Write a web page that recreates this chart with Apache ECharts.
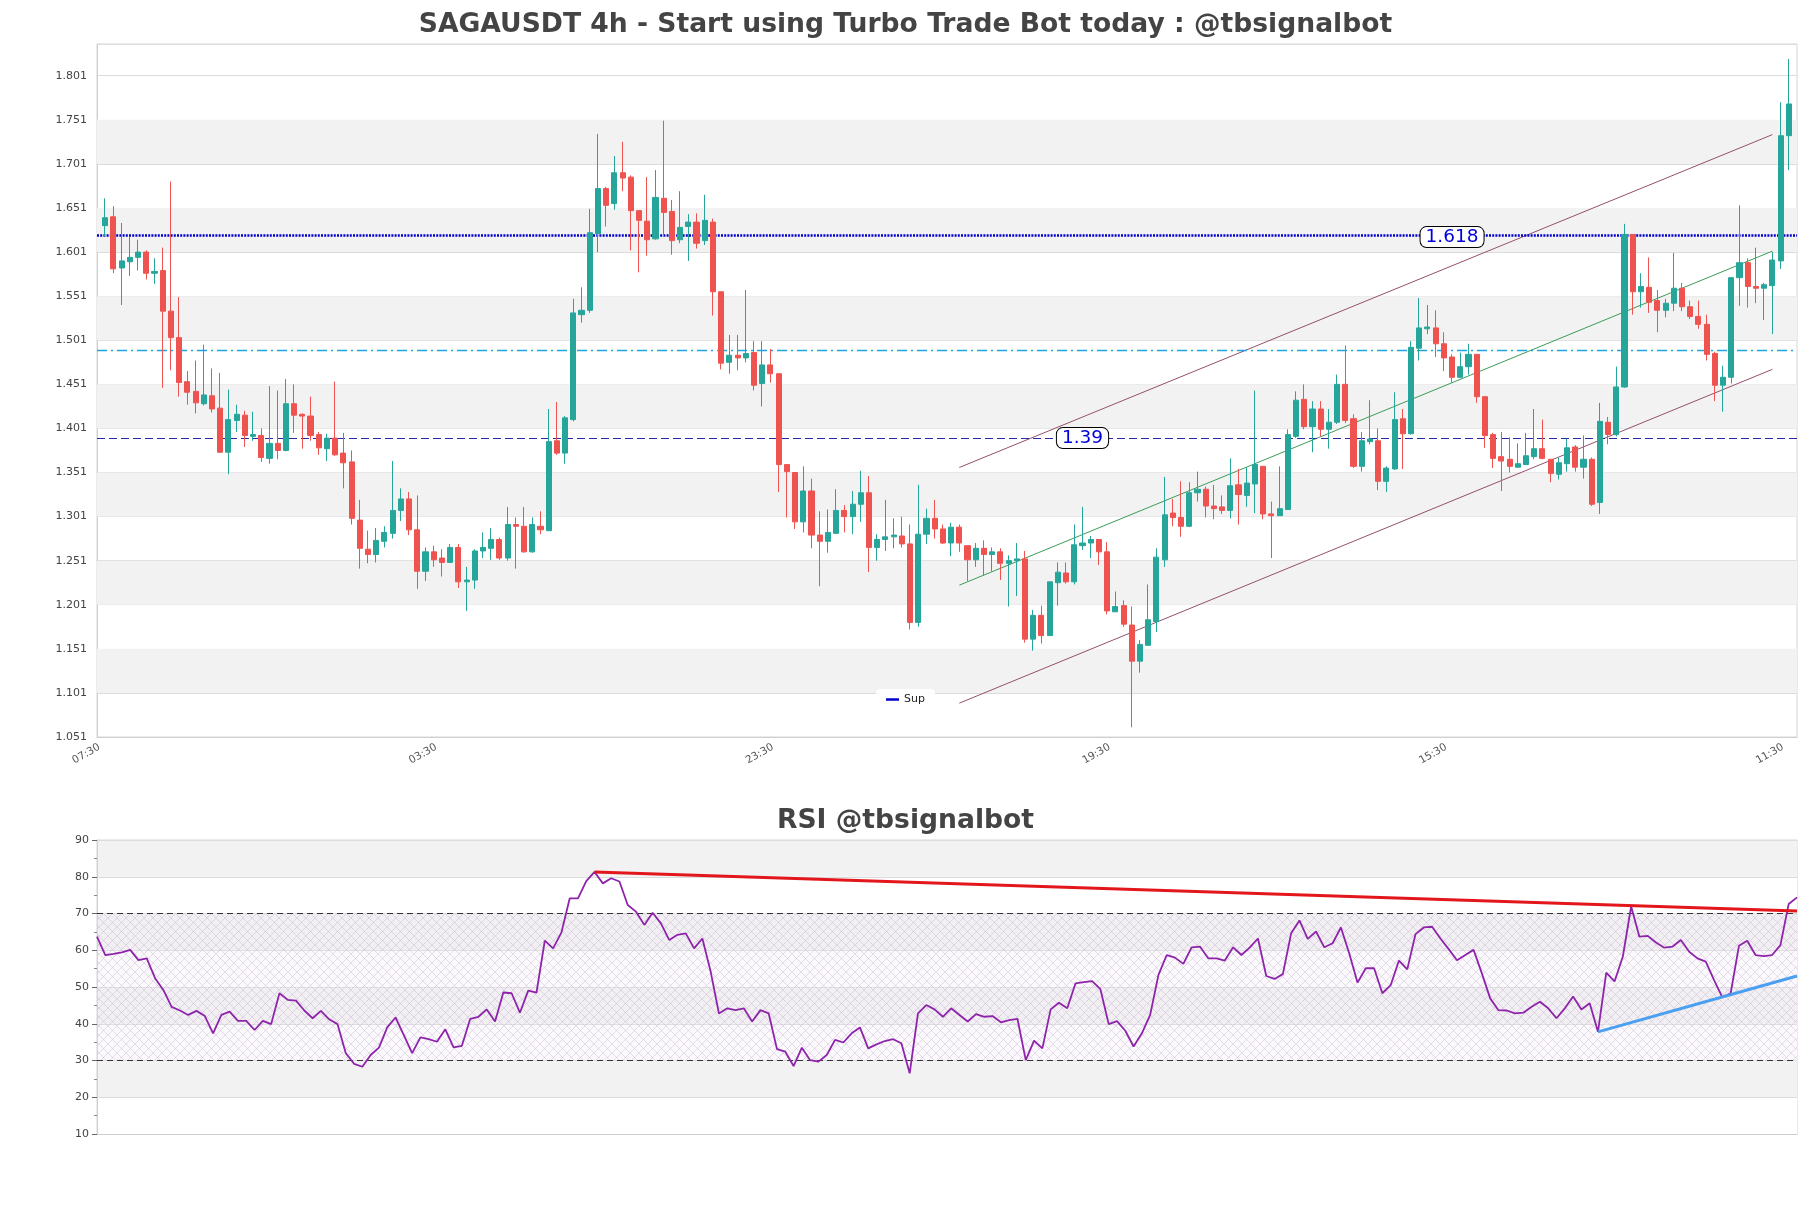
<!DOCTYPE html>
<html>
<head>
<meta charset="utf-8">
<script src="https://cdn.jsdelivr.net/npm/echarts@6/dist/echarts.min.js"></script>
<style>
html,body{margin:0;padding:0;background:#fff;}
#chart{width:1811px;height:1208px;}
</style>
</head>
<body>
<div id="chart"></div>
<script>
// ---------------- DATA ----------------
const opens = [1.631,1.641,1.583,1.590,1.595,1.601,1.577,1.580,1.534,1.504,1.454,1.443,1.429,1.438,1.424,1.374,1.410,1.416,1.392,1.393,
1.367,1.384,1.376,1.429,1.417,1.415,1.394,1.378,1.390,1.373,1.363,1.297,1.264,1.258,1.273,1.282,1.308,1.321,1.286,1.239,
1.261,1.254,1.249,1.266,1.227,1.229,1.262,1.265,1.275,1.254,1.292,1.290,1.261,1.290,1.285,1.387,1.373,1.411,1.530,1.535,
1.622,1.673,1.656,1.691,1.686,1.648,1.636,1.616,1.662,1.647,1.615,1.630,1.635,1.614,1.635,1.556,1.476,1.484,1.481,1.487,
1.452,1.473,1.463,1.360,1.351,1.295,1.330,1.280,1.273,1.282,1.308,1.301,1.315,1.328,1.266,1.275,1.278,1.279,1.270,1.181,
1.281,1.299,1.287,1.271,1.289,1.268,1.252,1.265,1.258,1.261,1.248,1.251,1.253,1.162,1.189,1.166,1.226,1.237,1.227,1.268,
1.271,1.275,1.261,1.193,1.200,1.178,1.137,1.155,1.182,1.252,1.305,1.300,1.290,1.328,1.332,1.313,1.312,1.308,1.337,1.325,
1.338,1.358,1.304,1.302,1.309,1.392,1.434,1.403,1.423,1.400,1.408,1.451,1.412,1.358,1.386,1.387,1.341,1.355,1.412,1.395,
1.492,1.514,1.515,1.497,1.482,1.459,1.471,1.485,1.437,1.394,1.369,1.366,1.357,1.360,1.369,1.378,1.366,1.349,1.361,1.380,
1.357,1.366,1.317,1.408,1.394,1.448,1.621,1.556,1.561,1.546,1.535,1.543,1.560,1.539,1.528,1.519,1.486,1.450,1.459,1.572,
1.589,1.562,1.560,1.563,1.591,1.733];
const closes = [1.640,1.582,1.591,1.595,1.601,1.577,1.579,1.534,1.504,1.453,1.442,1.430,1.439,1.423,1.374,1.411,1.417,1.393,1.394,1.368,
1.384,1.376,1.429,1.416,1.415,1.393,1.379,1.390,1.371,1.362,1.299,1.265,1.258,1.274,1.283,1.308,1.321,1.286,1.239,1.261,
1.252,1.249,1.266,1.227,1.229,1.262,1.266,1.275,1.254,1.292,1.290,1.261,1.292,1.286,1.386,1.373,1.413,1.532,1.535,1.623,
1.673,1.654,1.691,1.685,1.648,1.637,1.615,1.663,1.646,1.614,1.629,1.635,1.611,1.637,1.556,1.475,1.484,1.481,1.486,1.450,
1.473,1.463,1.360,1.352,1.295,1.330,1.280,1.273,1.283,1.308,1.301,1.315,1.328,1.266,1.275,1.278,1.280,1.270,1.181,1.281,
1.299,1.287,1.271,1.289,1.271,1.252,1.265,1.258,1.261,1.248,1.251,1.253,1.162,1.189,1.166,1.227,1.238,1.227,1.269,1.271,
1.275,1.261,1.194,1.199,1.179,1.137,1.156,1.184,1.255,1.303,1.300,1.290,1.328,1.332,1.313,1.310,1.308,1.336,1.326,1.339,
1.360,1.304,1.302,1.310,1.394,1.433,1.403,1.423,1.400,1.408,1.451,1.410,1.358,1.387,1.389,1.341,1.356,1.411,1.395,1.493,
1.515,1.516,1.497,1.481,1.459,1.471,1.485,1.437,1.393,1.367,1.364,1.358,1.361,1.370,1.378,1.367,1.350,1.362,1.379,1.357,
1.366,1.315,1.409,1.394,1.448,1.621,1.556,1.562,1.544,1.535,1.543,1.560,1.539,1.528,1.519,1.485,1.450,1.459,1.572,1.589,
1.562,1.560,1.564,1.592,1.733,1.769];
const lows = [1.619,1.577,1.541,1.574,1.580,1.570,1.565,1.447,1.467,1.437,1.428,1.418,1.427,1.419,1.373,1.349,1.397,1.380,1.387,1.363,
1.361,1.366,1.375,1.396,1.378,1.387,1.371,1.364,1.370,1.333,1.292,1.242,1.248,1.249,1.266,1.276,1.296,1.280,1.219,1.228,
1.244,1.233,1.249,1.220,1.194,1.219,1.254,1.252,1.252,1.251,1.242,1.260,1.260,1.281,1.285,1.371,1.361,1.409,1.521,1.532,
1.601,1.630,1.649,1.670,1.603,1.578,1.597,1.615,1.619,1.598,1.611,1.591,1.605,1.609,1.529,1.468,1.463,1.467,1.476,1.444,
1.426,1.453,1.329,1.300,1.287,1.283,1.265,1.222,1.260,1.281,1.283,1.281,1.295,1.238,1.251,1.262,1.265,1.266,1.173,1.176,
1.270,1.276,1.270,1.256,1.261,1.228,1.244,1.234,1.239,1.229,1.199,1.211,1.158,1.149,1.157,1.166,1.200,1.225,1.224,1.263,
1.254,1.246,1.190,1.193,1.176,1.062,1.124,1.155,1.170,1.244,1.290,1.278,1.289,1.318,1.300,1.298,1.304,1.299,1.292,1.312,
1.305,1.298,1.254,1.302,1.309,1.390,1.400,1.374,1.392,1.378,1.406,1.407,1.356,1.352,1.383,1.331,1.329,1.354,1.355,1.394,
1.478,1.508,1.482,1.466,1.453,1.458,1.462,1.430,1.379,1.356,1.330,1.351,1.357,1.360,1.366,1.366,1.340,1.343,1.352,1.352,
1.344,1.313,1.304,1.383,1.392,1.447,1.530,1.538,1.532,1.510,1.527,1.534,1.534,1.525,1.514,1.478,1.432,1.420,1.452,1.540,
1.538,1.543,1.524,1.508,1.582,1.694];
const highs = [1.662,1.653,1.634,1.618,1.615,1.603,1.594,1.606,1.681,1.550,1.466,1.478,1.496,1.469,1.464,1.445,1.428,1.421,1.420,1.401,
1.449,1.444,1.457,1.451,1.418,1.437,1.397,1.395,1.454,1.396,1.376,1.320,1.285,1.288,1.290,1.364,1.333,1.329,1.325,1.266,
1.268,1.264,1.270,1.270,1.244,1.264,1.283,1.288,1.277,1.312,1.300,1.312,1.300,1.307,1.423,1.431,1.415,1.548,1.561,1.650,
1.735,1.675,1.710,1.726,1.688,1.648,1.686,1.694,1.750,1.660,1.670,1.644,1.645,1.666,1.639,1.556,1.507,1.507,1.558,1.500,
1.500,1.491,1.463,1.360,1.351,1.358,1.344,1.307,1.309,1.332,1.314,1.330,1.353,1.347,1.281,1.320,1.299,1.301,1.292,1.337,
1.310,1.320,1.292,1.294,1.292,1.268,1.271,1.274,1.266,1.265,1.257,1.271,1.262,1.195,1.200,1.227,1.249,1.249,1.292,1.312,
1.279,1.275,1.272,1.216,1.206,1.199,1.161,1.224,1.265,1.346,1.321,1.341,1.340,1.352,1.335,1.337,1.325,1.367,1.355,1.357,
1.444,1.358,1.318,1.358,1.400,1.443,1.451,1.432,1.432,1.423,1.462,1.495,1.417,1.397,1.433,1.401,1.358,1.442,1.423,1.500,
1.549,1.541,1.535,1.510,1.485,1.487,1.497,1.485,1.437,1.396,1.397,1.391,1.384,1.396,1.423,1.411,1.366,1.368,1.389,1.382,
1.393,1.368,1.430,1.414,1.471,1.633,1.621,1.577,1.595,1.558,1.548,1.600,1.566,1.546,1.546,1.530,1.488,1.472,1.572,1.654,
1.594,1.606,1.566,1.601,1.771,1.820];
const rsi = [63.7,58.7,59.0,59.4,60.1,57.3,57.8,52.4,49.2,44.6,
43.6,42.4,43.5,42.1,37.4,42.4,43.3,40.8,40.8,38.3,
40.8,39.9,48.3,46.5,46.3,43.6,41.5,43.5,41.2,39.9,
32.0,29.1,28.3,31.5,33.5,39.0,41.7,36.9,32.0,36.3,
35.8,35.1,38.5,33.6,34.0,41.3,41.9,43.9,40.6,48.5,
48.3,43.0,49.0,48.5,62.6,60.5,64.8,74.1,74.1,78.8,
81.3,78.2,79.6,78.7,72.3,70.5,66.9,70.2,67.3,62.8,
64.2,64.6,60.5,63.2,54.2,42.8,44.2,43.7,44.2,40.6,
43.7,42.8,33.1,32.4,28.5,33.5,30.1,29.7,31.5,35.6,
34.9,37.4,39.0,33.3,34.4,35.3,35.8,34.7,26.5,42.8,
45.1,43.9,41.9,44.2,42.4,40.6,42.6,41.9,42.1,40.4,
41.0,41.3,30.1,35.4,33.3,43.9,45.7,44.2,51.0,51.3,
51.6,49.4,39.9,40.7,38.1,33.8,37.4,42.4,53.3,58.7,
58.0,56.3,60.8,61.0,57.8,57.8,57.2,60.8,58.7,60.7,
63.2,53.0,52.2,53.5,64.6,68.1,63.1,65.1,60.8,61.9,
66.2,59.2,51.2,55.1,55.1,48.3,50.5,57.2,54.8,64.4,
66.2,66.4,63.2,60.3,57.3,58.7,60.1,53.7,46.9,43.7,
43.6,42.8,43.0,44.6,46.0,44.2,41.5,44.2,47.4,43.9,
45.6,37.8,53.9,51.5,58.3,71.9,63.7,63.9,62.1,60.7,
61.0,62.8,59.6,57.8,56.9,51.9,47.2,48.3,61.2,62.6,
58.7,58.4,58.7,61.4,72.6,74.4];

// x tick labels (candle index -> time text)
const tickIdx = [0, 41, 82, 123, 164, 205];
const tickLabels = ['07:30', '03:30', '23:30', '19:30', '15:30', '11:30'];

// horizontal levels
const supLevel = 1.618;
const lvl139 = 1.39;
const midLevel = 1.487;

// channel (candle index, price)
const chanX = [104, 203];
const chanUpper = [1.3567, 1.7342];
const chanMid = [1.2232, 1.6021];
const chanLower = [1.0894, 1.4680];

// RSI trend lines (index, value)
const rsiResX = [60, 205], rsiResY = [81.3, 70.7];
const rsiSupX = [181, 205], rsiSupY = [37.8, 53.0];

// price axis
const yMin = 1.051, yMax = 1.837, yStep = 0.05;

// ---------------- BUILD ----------------
const N = opens.length;
const cats = Array.from({length: N + 2}, (_, j) => String(j));
const candleData = [['-','-','-','-']]
  .concat(opens.map((o, i) => [o, closes[i], lows[i], highs[i]]))
  .concat([['-','-','-','-']]);

// gray bands between alternate ticks
const bands = [];
for (let k = 1; yMin + (k + 1) * yStep <= yMax + 1e-9; k += 2) {
  bands.push([{yAxis: +(yMin + k * yStep).toFixed(3)}, {yAxis: +(yMin + (k + 1) * yStep).toFixed(3)}]);
}

// hatch pattern
const pat = document.createElement('canvas');
pat.width = 9; pat.height = 9;
const pc = pat.getContext('2d');
pc.fillStyle = 'rgba(240,232,245,0.25)';
pc.fillRect(0, 0, 9, 9);
pc.strokeStyle = 'rgba(185,160,200,0.55)';
pc.lineWidth = 0.6;
pc.beginPath();
pc.moveTo(0, 0); pc.lineTo(9, 9);
pc.moveTo(9, 0); pc.lineTo(0, 9);
pc.stroke();

const FONT = 'DejaVu Sans';
const chart = echarts.init(document.getElementById('chart'), null, {renderer: 'canvas'});

const chanSeries = (name, ys, color) => ({
  name, type: 'line', xAxisIndex: 0, yAxisIndex: 0, symbol: 'none', silent: true, z: 4,
  data: [[chanX[0] + 1, ys[0]], [chanX[1] + 1, ys[1]]],
  lineStyle: {color, width: 1}
});

const option = {
  animation: false,
  backgroundColor: '#ffffff',
  textStyle: {fontFamily: FONT},
  title: [
    {text: 'SAGAUSDT 4h - Start using Turbo Trade Bot today : @tbsignalbot', left: 'center', top: 7,
     textStyle: {fontFamily: FONT, fontWeight: 'bold', fontSize: 26.6, color: '#444'}},
    {text: 'RSI @tbsignalbot', left: 'center', top: 803,
     textStyle: {fontFamily: FONT, fontWeight: 'bold', fontSize: 26.6, color: '#444'}}
  ],
  legend: {
    data: [{name: 'Sup', icon: 'rect'}],
    left: 'center', top: 689,
    itemWidth: 13, itemHeight: 2.5,
    backgroundColor: 'rgba(255,255,255,0.9)', borderRadius: 4, padding: [5, 10],
    textStyle: {fontFamily: FONT, fontSize: 11, color: '#222'}
  },
  grid: [
    {left: 97, top: 44, width: 1700, height: 693, show: true, borderColor: '#d6d6d6', borderWidth: 1},
    {left: 97, top: 840, width: 1700, height: 294, show: true, borderColor: '#d6d6d6', borderWidth: 1}
  ],
  xAxis: [
    {type: 'category', gridIndex: 0, data: cats, boundaryGap: false,
     axisLine: {show: true, lineStyle: {color: '#cfcfcf'}},
     axisTick: {show: false}, splitLine: {show: false},
     axisLabel: {
       rotate: 30, fontFamily: FONT, fontSize: 10.5, color: '#555', margin: 6,
       interval: (idx) => tickIdx.indexOf(idx - 1) >= 0,
       formatter: (val) => { const k = tickIdx.indexOf(Number(val) - 1); return k >= 0 ? tickLabels[k] + '  ' : ''; }
     }},
    {type: 'value', gridIndex: 1, min: 0, max: N - 1,
     axisLine: {show: true, lineStyle: {color: '#cfcfcf'}},
     axisTick: {show: false}, axisLabel: {show: false}, splitLine: {show: false}}
  ],
  yAxis: [
    {type: 'value', gridIndex: 0, min: yMin, max: yMax, interval: yStep,
     axisLine: {show: true, lineStyle: {color: '#cfcfcf'}},
     axisTick: {show: false},
     splitLine: {show: true, lineStyle: {color: '#dcdcdc', width: 1}},
     axisLabel: {fontFamily: FONT, fontSize: 11, color: '#444', margin: 10, showMaxLabel: false,
       formatter: (v) => v.toFixed(3)}},
    {type: 'value', gridIndex: 1, min: 10, max: 90, interval: 10,
     axisLine: {show: true, lineStyle: {color: '#cfcfcf'}},
     axisTick: {show: true, length: 5, lineStyle: {color: '#666'}},
     minorTick: {show: true, splitNumber: 2, length: 3, lineStyle: {color: '#888'}},
     splitLine: {show: true, lineStyle: {color: '#dcdcdc'}},
     splitArea: {show: true, areaStyle: {color: ['#ffffff', '#f2f2f2']}},
     axisLabel: {fontFamily: FONT, fontSize: 11, color: '#444', margin: 8}}
  ],
  series: [
    {name: 'bands', type: 'line', xAxisIndex: 0, yAxisIndex: 0, data: [], silent: true, z: 0,
     markArea: {silent: true, itemStyle: {color: '#f2f2f2'}, data: bands}},
    {name: 'price', type: 'candlestick', xAxisIndex: 0, yAxisIndex: 0, data: candleData, z: 5,
     barWidth: 5.6,
     itemStyle: {color: '#26a69a', color0: '#ef5350', borderColor: '#26a69a', borderColor0: '#ef5350', borderWidth: 1},
     markLine: {
       silent: true, symbol: ['none', 'none'], label: {show: false},
       data: [
         {yAxis: lvl139, lineStyle: {color: '#2a2aa0', width: 1.2, type: [8, 4]}},
         {yAxis: midLevel, lineStyle: {color: '#1ea2e0', width: 1.3, type: [10, 4, 2, 4]}}
       ]
     },
     markPoint: {
       silent: true, symbol: 'circle', symbolSize: 0,
       label: {show: true, position: 'inside', fontFamily: FONT, fontSize: 18.5, color: '#0000dd',
         backgroundColor: '#ffffff', borderColor: '#000', borderWidth: 1, borderRadius: 6, padding: [1, 5, 0, 5],
         formatter: (p) => p.name},
       data: [
         {name: String(lvl139), coord: [120, lvl139]},
         {name: String(supLevel), coord: [165, supLevel]}
       ]
     }},
    {name: 'Sup', type: 'line', xAxisIndex: 0, yAxisIndex: 0, data: [], z: 3,
     itemStyle: {color: '#0000cc'}, lineStyle: {color: '#0000cc'},
     markLine: {silent: true, symbol: ['none', 'none'], label: {show: false},
       data: [{yAxis: supLevel, lineStyle: {color: '#0000cc', width: 2.5, type: [2, 1.2]}}]}},
    chanSeries('upper', chanUpper, '#94506e'),
    chanSeries('lower', chanLower, '#94506e'),
    chanSeries('mid', chanMid, '#3c9c56'),
    {name: 'RSI', type: 'line', xAxisIndex: 1, yAxisIndex: 1, symbol: 'none', z: 5,
     data: rsi.map((v, i) => [i, v]),
     lineStyle: {color: '#8e24aa', width: 1.8},
     markArea: {silent: true, itemStyle: {color: {image: pat, repeat: 'repeat'}},
       data: [[{yAxis: 30}, {yAxis: 70}]]},
     markLine: {silent: true, symbol: ['none', 'none'], label: {show: false},
       data: [
         {yAxis: 70, lineStyle: {color: '#333', width: 1.2, type: [6, 4]}},
         {yAxis: 30, lineStyle: {color: '#333', width: 1.2, type: [6, 4]}}
       ]}},
    {name: 'rsiRes', type: 'line', xAxisIndex: 1, yAxisIndex: 1, symbol: 'none', silent: true, z: 6,
     data: [[rsiResX[0], rsiResY[0]], [rsiResX[1], rsiResY[1]]],
     lineStyle: {color: '#e3161c', width: 3}},
    {name: 'rsiSup', type: 'line', xAxisIndex: 1, yAxisIndex: 1, symbol: 'none', silent: true, z: 6,
     data: [[rsiSupX[0], rsiSupY[0]], [rsiSupX[1], rsiSupY[1]]],
     lineStyle: {color: '#4a9ff0', width: 3}}
  ]
};
chart.setOption(option);
</script>
</body>
</html>
